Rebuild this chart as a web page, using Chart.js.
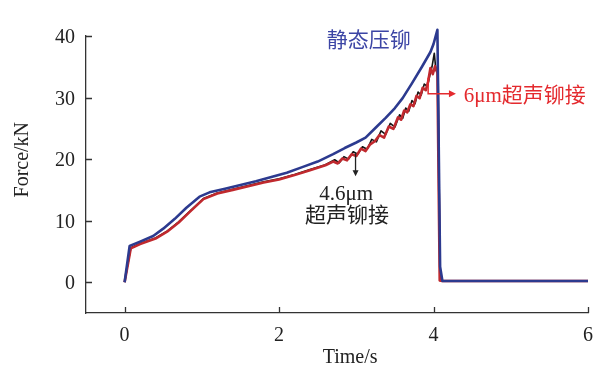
<!DOCTYPE html>
<html>
<head>
<meta charset="utf-8">
<script src="https://cdn.jsdelivr.net/npm/chart.js@4.4.0/dist/chart.umd.min.js"></script>
<style>
  body { margin: 0; background: #fff; }
  #wrap { width: 605px; height: 373px; }
</style>
</head>
<body>
<div id="wrap"><canvas id="forceChart" width="605" height="373"></canvas></div>
<script>
// static press riveting (静态压铆)
var staticTime  = [0, 0.065, 0.2, 0.37, 0.5, 0.65, 0.8, 0.97, 1.1, 1.3, 1.5, 1.7, 1.9, 2.1, 2.3, 2.5, 2.7, 2.85, 3.0, 3.12, 3.25, 3.38, 3.5, 3.6, 3.72, 3.85, 3.96, 4.0, 4.05, 4.085, 4.115, 6.0];
var staticForce = [0, 5.9, 6.6, 7.5, 8.7, 10.3, 12.1, 13.9, 14.6, 15.2, 15.8, 16.4, 17.1, 17.8, 18.7, 19.6, 20.8, 21.8, 22.7, 23.5, 25.1, 26.7, 28.3, 29.9, 32.3, 35.0, 37.4, 38.7, 41.0, 2.5, 0.2, 0.2];

// 6 μm ultrasonic riveting
var us6Time  = [0, 0.08, 0.2, 0.4, 0.55, 0.7, 0.85, 1.02, 1.2, 1.4, 1.6, 1.8, 2.0, 2.2, 2.4, 2.6, 2.7, 2.76, 2.82, 2.88, 2.94, 3.0, 3.06, 3.12, 3.18, 3.24, 3.3, 3.36, 3.42, 3.48, 3.54, 3.58, 3.62, 3.66, 3.7, 3.74, 3.78, 3.82, 3.86, 3.9, 3.93, 3.96, 3.99, 4.02, 4.05, 4.08, 4.11, 6.0];
var us6Force = [0, 5.5, 6.2, 7.1, 8.2, 9.7, 11.5, 13.5, 14.4, 15.0, 15.6, 16.2, 16.7, 17.4, 18.2, 19.0, 19.6, 19.3, 20.1, 19.8, 20.8, 20.5, 21.7, 21.3, 22.4, 22.9, 23.9, 23.5, 25.3, 24.9, 26.8, 26.4, 27.9, 27.6, 28.9, 28.6, 30.3, 29.9, 31.6, 31.2, 32.6, 34.8, 33.8, 35.1, 34.0, 0.3, 0.2, 0.2];

// 4.6 μm ultrasonic riveting
var us46Time  = [0, 0.08, 0.2, 0.4, 0.55, 0.7, 0.85, 1.02, 1.2, 1.4, 1.6, 1.8, 2.0, 2.2, 2.4, 2.6, 2.72, 2.78, 2.84, 2.9, 2.96, 3.02, 3.08, 3.14, 3.2, 3.26, 3.32, 3.38, 3.44, 3.5, 3.56, 3.6, 3.64, 3.68, 3.72, 3.76, 3.8, 3.84, 3.88, 3.92, 3.95, 3.98, 4.01, 4.03, 4.06, 4.085, 4.11, 6.0];
var us46Force = [0, 5.6, 6.3, 7.2, 8.3, 9.8, 11.6, 13.6, 14.5, 15.1, 15.7, 16.3, 16.8, 17.5, 18.3, 19.1, 19.9, 19.4, 20.4, 20.0, 21.2, 20.8, 22.0, 21.6, 23.2, 22.8, 24.6, 24.0, 25.8, 25.2, 27.2, 26.6, 28.3, 27.8, 29.5, 29.0, 30.9, 30.4, 32.2, 31.8, 33.5, 35.0, 37.2, 34.5, 33.8, 0.3, 0.2, 0.2];

var xTicks = [0, 2, 4, 6];
var yTicks = [0, 10, 20, 30, 40];

var axisColor = '#333333';
var textColor = '#222222';
var serif = '"Liberation Serif", "Times New Roman", serif';
var mixed = '"Liberation Serif", "Noto Sans CJK SC", serif';

function toPoints(ts, fs) {
    return ts.map(function(t, i) { return { x: t, y: fs[i] }; });
}

function arrowHead(ctx, x, y, dir, size) {
    // dir: 'down' or 'right'
    ctx.beginPath();
    if (dir === 'down') {
        ctx.moveTo(x, y);
        ctx.lineTo(x - size / 2, y - size);
        ctx.lineTo(x + size / 2, y - size);
    } else {
        ctx.moveTo(x, y);
        ctx.lineTo(x - size, y - size / 2);
        ctx.lineTo(x - size, y + size / 2);
    }
    ctx.closePath();
    ctx.fill();
}

// inward ticks, axis titles and the curve labels
var decorPlugin = {
    id: 'decor',
    afterDraw: function(chart) {
        var ctx = chart.ctx;
        var xs = chart.scales.x, ys = chart.scales.y, area = chart.chartArea;
        ctx.save();

        ctx.strokeStyle = axisColor;
        ctx.lineWidth = 1.3;
        ctx.beginPath();
        xTicks.forEach(function(v) {
            var px = Math.round(xs.getPixelForValue(v)) + 0.5;
            ctx.moveTo(px, area.bottom);
            ctx.lineTo(px, area.bottom - 6);
        });
        yTicks.forEach(function(v) {
            var py = Math.round(ys.getPixelForValue(v)) + 0.5;
            ctx.moveTo(area.left, py);
            ctx.lineTo(area.left + 6, py);
        });
        ctx.stroke();

        // axis titles
        ctx.fillStyle = textColor;
        ctx.font = '20px ' + serif;
        ctx.textAlign = 'center';
        ctx.textBaseline = 'alphabetic';
        ctx.fillText('Time/s', xs.getPixelForValue(2.92), area.bottom + 50);
        ctx.save();
        ctx.translate(28, ys.getPixelForValue(19.9));
        ctx.rotate(-Math.PI / 2);
        ctx.fillText('Force/kN', 0, 0);
        ctx.restore();

        ctx.font = '21px ' + mixed;
        ctx.textBaseline = 'middle';

        // static label
        ctx.fillStyle = '#3c45a5';
        ctx.textAlign = 'center';
        ctx.fillText('静态压铆', xs.getPixelForValue(3.16), ys.getPixelForValue(39.1));

        // 6 μm label with bent arrow
        var red = '#e42a2e';
        ctx.strokeStyle = red;
        ctx.fillStyle = red;
        ctx.lineWidth = 1.5;
        var ax = xs.getPixelForValue(3.93);
        var ay0 = ys.getPixelForValue(33.2);
        var ay1 = ys.getPixelForValue(30.6);
        var ax1 = xs.getPixelForValue(4.29);
        ctx.beginPath();
        ctx.moveTo(ax, ay0);
        ctx.lineTo(ax, ay1);
        ctx.lineTo(ax1 - 5, ay1);
        ctx.stroke();
        arrowHead(ctx, ax1, ay1, 'right', 7);
        ctx.textAlign = 'left';
        ctx.fillText('6μm超声铆接', xs.getPixelForValue(4.39), ys.getPixelForValue(30.1));

        // 4.6 μm label with arrow
        ctx.strokeStyle = textColor;
        ctx.fillStyle = textColor;
        ctx.lineWidth = 1.3;
        var bx = xs.getPixelForValue(2.99);
        var by0 = ys.getPixelForValue(20.9);
        var by1 = ys.getPixelForValue(17.2);
        ctx.beginPath();
        ctx.moveTo(bx, by0);
        ctx.lineTo(bx, by1 - 5);
        ctx.stroke();
        arrowHead(ctx, bx, by1, 'down', 6);
        ctx.textAlign = 'center';
        ctx.fillText('4.6μm', xs.getPixelForValue(2.87), ys.getPixelForValue(14.2));
        ctx.fillText('超声铆接', xs.getPixelForValue(2.88), ys.getPixelForValue(10.6));

        ctx.restore();
    }
};

var ctx = document.getElementById('forceChart').getContext('2d');
new Chart(ctx, {
    type: 'line',
    data: {
        datasets: [{
            label: '静态压铆',
            data: toPoints(staticTime, staticForce),
            borderColor: '#2c3a8f',
            borderWidth: 2.6,
            clip: false
        }, {
            label: '6μm超声铆接',
            data: toPoints(us6Time, us6Force),
            borderColor: '#c0292e',
            borderWidth: 2.6,
            clip: false
        }, {
            label: '4.6μm超声铆接',
            data: toPoints(us46Time, us46Force),
            borderColor: '#141414',
            borderWidth: 1.6,
            clip: false
        }]
    },
    options: {
        responsive: false,
        animation: false,
        elements: {
            point: { radius: 0 },
            line: { tension: 0, borderJoinStyle: 'round' }
        },
        layout: { padding: { left: 0, right: 17, top: 36, bottom: 0 } },
        plugins: {
            legend: { display: false },
            tooltip: { enabled: false }
        },
        scales: {
            x: {
                type: 'linear',
                min: -0.5,
                max: 6,
                afterBuildTicks: function(scale) {
                    scale.ticks = xTicks.map(function(v) { return { value: v }; });
                },
                afterFit: function(scale) { scale.height = 60; },
                grid: { display: false, drawTicks: false },
                border: { display: true, color: axisColor, width: 1.3 },
                ticks: {
                    color: textColor,
                    padding: 11,
                    maxRotation: 0,
                    font: { family: serif, size: 20 }
                }
            },
            y: {
                type: 'linear',
                min: -5,
                max: 40,
                afterBuildTicks: function(scale) {
                    scale.ticks = yTicks.map(function(v) { return { value: v }; });
                },
                afterFit: function(scale) { scale.width = 86; },
                grid: { display: false, drawTicks: false },
                border: { display: true, color: axisColor, width: 1.3 },
                ticks: {
                    color: textColor,
                    padding: 11,
                    labelOffset: 2,
                    font: { family: serif, size: 20 }
                }
            }
        }
    },
    plugins: [decorPlugin]
});
</script>
</body>
</html>
